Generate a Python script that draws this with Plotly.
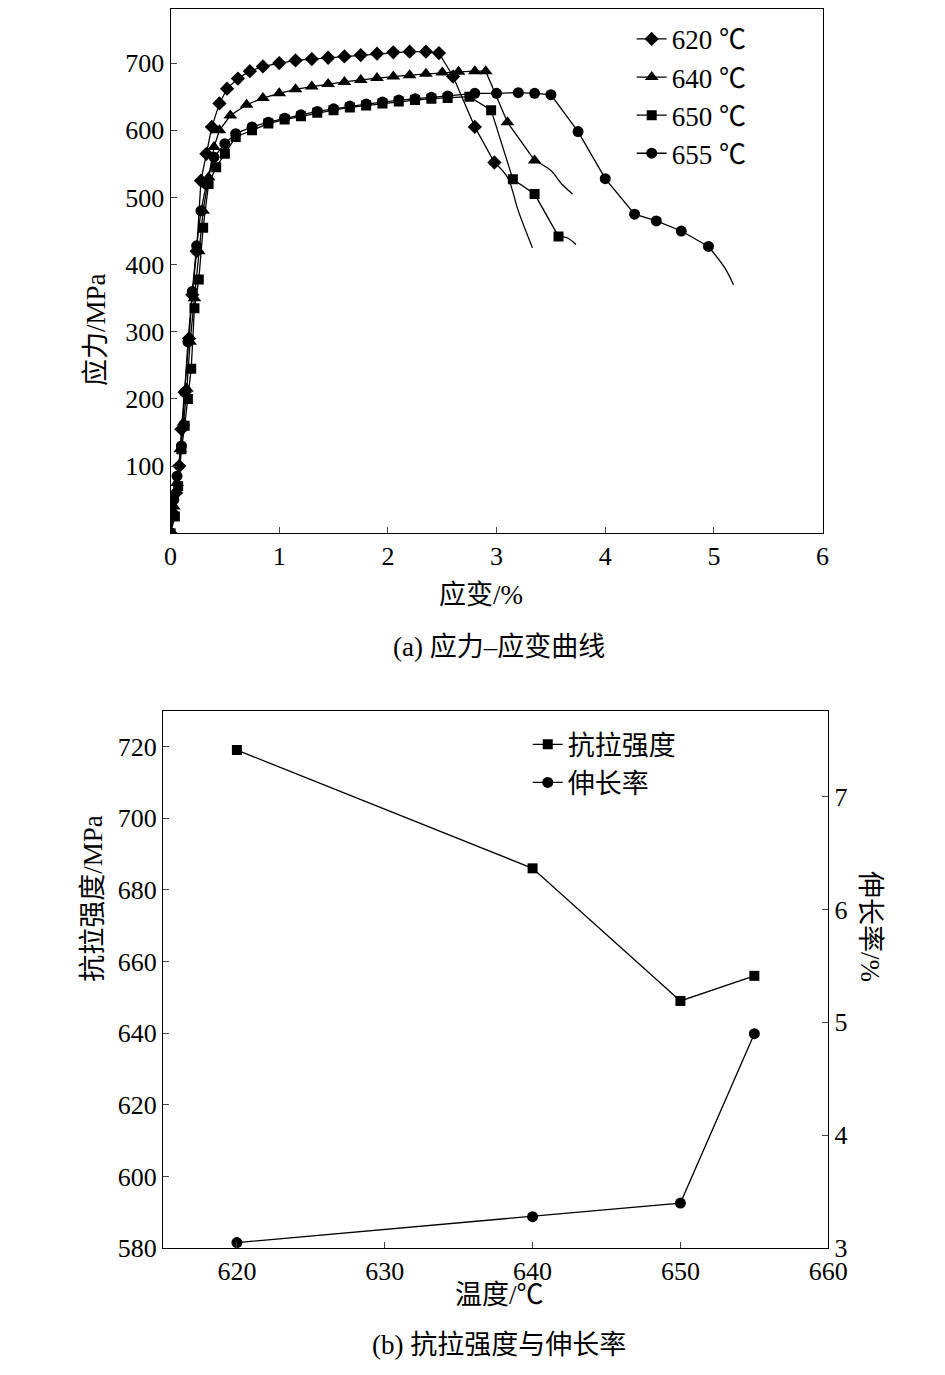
import plotly.graph_objs as go

FONT = "Liberation Serif, Noto Sans CJK SC"

# (a) stress-strain curves: marker points then unmarked tail
s620_x = [0, 0.02, 0.05, 0.08, 0.1, 0.13, 0.17, 0.2, 0.24, 0.28, 0.33, 0.38, 0.45, 0.52, 0.62, 0.73, 0.85, 1.0, 1.15, 1.3, 1.45, 1.6, 1.75, 1.9, 2.05, 2.2, 2.35, 2.47, 2.6, 2.8, 2.98]
s620_y = [0, 30, 60, 100, 155, 210, 290, 355, 420, 525, 565, 605, 640, 662, 677, 688, 695, 700, 704, 706, 708, 710, 712, 714, 716, 717, 717, 715, 680, 605, 552]
t620_x = [2.98, 3.1, 3.2, 3.33]
t620_y = [552, 530, 480, 425]

s640_x = [0, 0.03, 0.06, 0.09, 0.12, 0.15, 0.18, 0.22, 0.26, 0.3, 0.35, 0.4, 0.45, 0.55, 0.7, 0.85, 1.0, 1.15, 1.3, 1.45, 1.6, 1.75, 1.9, 2.05, 2.2, 2.35, 2.5, 2.65, 2.8, 2.9, 3.1, 3.35]
s640_y = [0, 40, 75, 125, 165, 215, 285, 350, 420, 480, 530, 575, 600, 622, 638, 648, 655, 661, 665, 669, 672, 675, 678, 680, 682, 684, 686, 687, 688, 688, 612, 555]
t640_x = [3.35, 3.5, 3.6, 3.7]
t640_y = [555, 540, 520, 505]

s650_x = [0, 0.04, 0.07, 0.1, 0.13, 0.16, 0.19, 0.22, 0.26, 0.3, 0.35, 0.42, 0.5, 0.6, 0.75, 0.9, 1.05, 1.2, 1.35, 1.5, 1.65, 1.8, 1.95, 2.1, 2.25, 2.4, 2.55, 2.75, 2.95, 3.15, 3.35, 3.57]
s650_y = [0, 25, 70, 125, 160, 200, 245, 335, 378, 455, 520, 545, 565, 590, 600, 610, 616, 621, 626, 630, 634, 637, 640, 643, 645, 647, 648, 650, 630, 527, 505, 442]
t650_x = [3.57, 3.65, 3.73]
t650_y = [442, 440, 430]

s655_x = [0, 0.03, 0.06, 0.1, 0.13, 0.16, 0.2, 0.24, 0.28, 0.33, 0.4, 0.5, 0.6, 0.75, 0.9, 1.05, 1.2, 1.35, 1.5, 1.65, 1.8, 1.95, 2.1, 2.25, 2.4, 2.55, 2.8, 3.0, 3.2, 3.35, 3.5, 3.75, 4.0, 4.27, 4.47, 4.7, 4.95]
s655_y = [0, 50, 85, 130, 210, 285, 360, 428, 480, 520, 560, 580, 595, 605, 612, 618, 623, 628, 632, 636, 639, 642, 645, 647, 649, 651, 655, 655, 656, 655, 653, 598, 528, 475, 465, 450, 427]
t655_x = [4.95, 5.1, 5.18]
t655_y = [427, 395, 370]

labels_a = ["620 ℃", "640 ℃", "650 ℃", "655 ℃"]
symbols = ["diamond", "triangle-up", "square", "circle"]
sizes = [11, 12, 10, 11]

# (b) strength and elongation vs temperature
temps = [620, 640, 650, 655]
strength = [719, 686, 649, 656]
elong = [3.05, 3.28, 3.4, 4.9]

fig = go.Figure()
series = [(s620_x, s620_y, t620_x, t620_y), (s640_x, s640_y, t640_x, t640_y),
          (s650_x, s650_y, t650_x, t650_y), (s655_x, s655_y, t655_x, t655_y)]
for (sx, sy, tx, ty), lab, sym, sz in zip(series, labels_a, symbols, sizes):
    fig.add_trace(go.Scatter(x=sx, y=sy, mode="lines+markers", name=lab,
                             line=dict(color="black", width=1.3),
                             marker=dict(symbol=sym, size=sz, color="black"),
                             xaxis="x", yaxis="y", legend="legend"))
    fig.add_trace(go.Scatter(x=tx, y=ty, mode="lines", showlegend=False,
                             line=dict(color="black", width=1.3, shape="spline"),
                             xaxis="x", yaxis="y"))

fig.add_trace(go.Scatter(x=temps, y=strength, mode="lines+markers", name="抗拉强度",
                         line=dict(color="black", width=1.3),
                         marker=dict(symbol="square", size=10, color="black"),
                         xaxis="x2", yaxis="y2", legend="legend2"))
fig.add_trace(go.Scatter(x=temps, y=elong, mode="lines+markers", name="伸长率",
                         line=dict(color="black", width=1.3),
                         marker=dict(symbol="circle", size=11, color="black"),
                         xaxis="x2", yaxis="y3", legend="legend2"))

ax = dict(showline=True, linecolor="black", linewidth=1, mirror=True, ticks="inside",
          ticklen=6, showgrid=False, zeroline=False, automargin=False,
          tickfont=dict(size=26, family=FONT))
fig.update_layout(
    width=945, height=1375, margin=dict(l=0, r=0, t=0, b=0),
    plot_bgcolor="white", paper_bgcolor="white",
    font=dict(family=FONT, color="black", size=24),
    xaxis=dict(ax, domain=[0.172, 0.862], range=[0, 6], dtick=1, anchor="y"),
    yaxis=dict(ax, domain=[0.618, 0.999], range=[0, 780], tickvals=[100, 200, 300, 400, 500, 600, 700], anchor="x"),
    xaxis2=dict(ax, domain=[0.164, 0.868], range=[615, 660], dtick=10, anchor="y2"),
    yaxis2=dict(ax, domain=[0.098, 0.489], range=[580, 730], dtick=20, anchor="x2"),
    yaxis3=dict(ax, overlaying="y2", side="right", range=[3, 7.76], dtick=1, anchor="x2", mirror=False),
    legend=dict(x=0.66, y=0.995, xanchor="left", yanchor="top", bgcolor="rgba(0,0,0,0)",
                font=dict(size=27), tracegroupgap=0),
    legend2=dict(x=0.55, y=0.482, xanchor="left", yanchor="top", bgcolor="rgba(0,0,0,0)",
                 font=dict(size=27)),
)
anns = [
    dict(x=0.5, y=0.573, text="应变/%"),
    dict(x=0.52, y=0.535, text="(a) 应力–应变曲线"),
    dict(x=0.52, y=0.052, text="温度/℃"),
    dict(x=0.52, y=0.015, text="(b) 抗拉强度与伸长率"),
    dict(x=0.075, y=0.809, text="应力/MPa", textangle=-90),
    dict(x=0.072, y=0.29, text="抗拉强度/MPa", textangle=-90),
    dict(x=0.93, y=0.29, text="伸长率/%", textangle=90),
]
for a in anns:
    fig.add_annotation(xref="paper", yref="paper", showarrow=False, font=dict(size=27), **a)

fig.write_html("out.html")
